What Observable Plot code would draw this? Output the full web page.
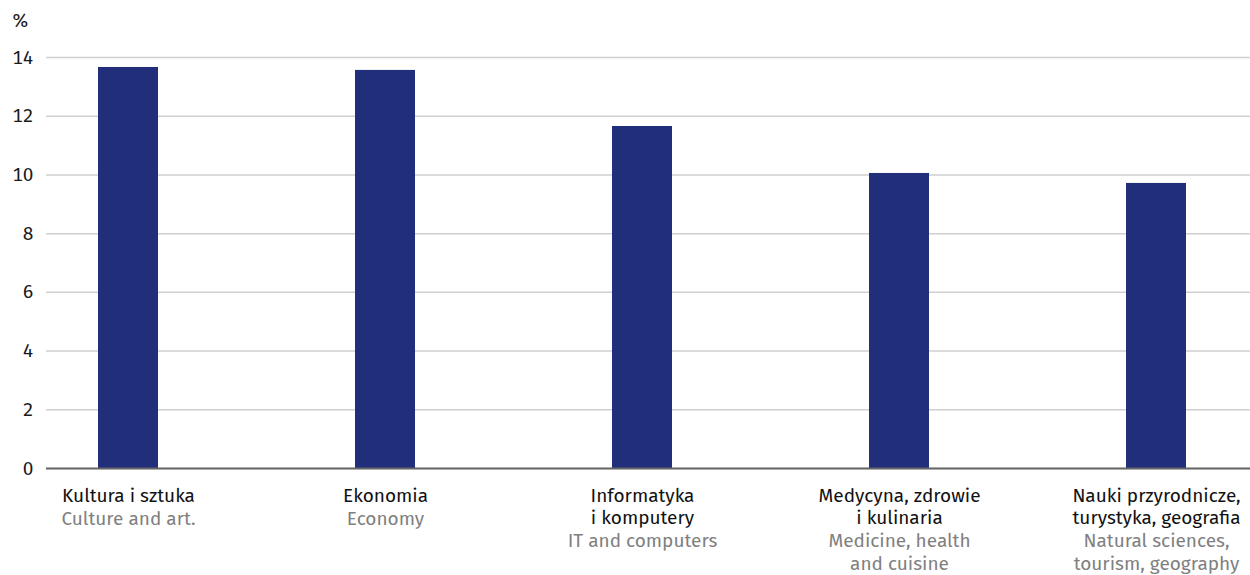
<!DOCTYPE html>
<html>
<head>
<meta charset="utf-8">
<script src="https://cdn.jsdelivr.net/npm/d3@7"></script>
<script src="https://cdn.jsdelivr.net/npm/@observablehq/plot@0.6"></script>
<style>
  html, body { margin: 0; padding: 0; background: #fff; }
  svg { display: block; }
</style>
</head>
<body>
<div id="chart"></div>
<script>
const categoriesPl = ["Kultura i sztuka", "Ekonomia", "Informatyka\ni komputery", "Medycyna, zdrowie\ni kulinaria", "Nauki przyrodnicze,\nturystyka, geografia"];
const categoriesEn = ["Culture and art.", "Economy", "IT and computers", "Medicine, health\nand cuisine", "Natural sciences,\ntourism, geography"];
const values = [13.66, 13.56, 11.65, 10.05, 9.71];
const yTicks = [0, 2, 4, 6, 8, 10, 12, 14];

const data = categoriesPl.map((pl, i) => ({
  pl, en: categoriesEn[i], value: values[i], plLines: pl.split("\n").length
}));

const font = "'Fira Sans', 'Open Sans', 'Noto Sans', sans-serif";
const FS = 19;
const LH = 22.8;

const chart = Plot.plot({
  width: 1250,
  height: 575,
  marginTop: 57,
  marginBottom: 107,
  marginLeft: 46,
  marginRight: 0,
  style: { fontFamily: font, fontSize: FS + "px", color: "#1a1a1a", background: "#fff" },
  x: { domain: categoriesPl, range: [46, 1237], paddingInner: 0.767, paddingOuter: 0.194, axis: null },
  y: { domain: [0, 14], axis: null },
  marks: [
    Plot.gridY(yTicks, { stroke: "#cfcfcf", strokeOpacity: 1, strokeWidth: 1.5 }),
    Plot.axisY(yTicks, { tickSize: 0, tickPadding: 13, label: null, fontSize: FS, fill: "#1a1a1a" }),
    Plot.barY(data, { x: "pl", y: "value", fill: "#212f7a" }),
    Plot.ruleY([0], { stroke: "#666", strokeWidth: 2 }),
    Plot.text(data, { x: "pl", y: 0, text: "pl", lineAnchor: "top", dy: 17, lineHeight: LH / FS, fill: "#111", fontSize: FS }),
    Plot.text(data.filter(d => d.plLines === 1), { x: "pl", y: 0, text: "en", lineAnchor: "top", dy: 17 + LH, lineHeight: LH / FS, fill: "#808080", fontSize: FS }),
    Plot.text(data.filter(d => d.plLines === 2), { x: "pl", y: 0, text: "en", lineAnchor: "top", dy: 17 + 2 * LH, lineHeight: LH / FS, fill: "#808080", fontSize: FS }),
    Plot.text(["%"], { frameAnchor: "top-left", dx: -34, dy: -37, textAnchor: "start", lineAnchor: "middle", fill: "#1a1a1a", fontSize: FS })
  ]
});
document.getElementById("chart").appendChild(chart);
</script>
</body>
</html>
